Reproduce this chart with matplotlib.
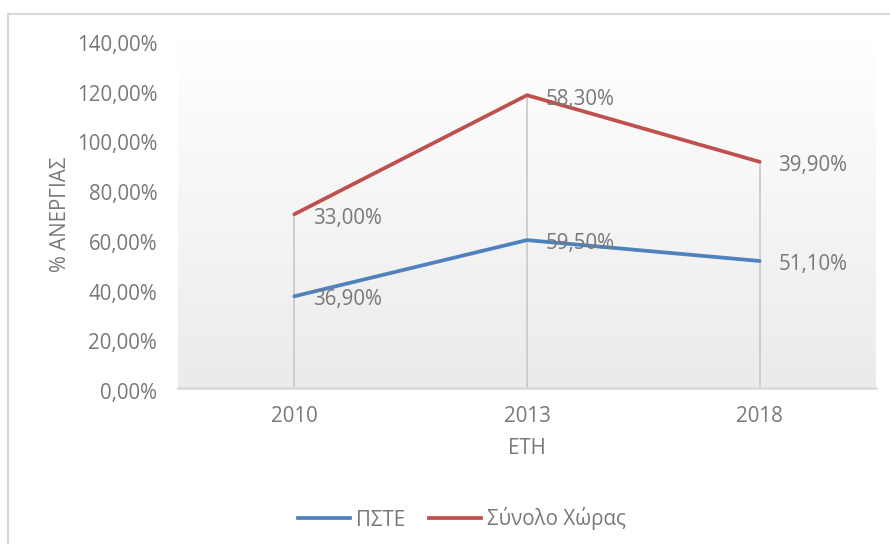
import matplotlib
matplotlib.use("Agg")
import matplotlib.pyplot as plt
import matplotlib.transforms as mtransforms
import numpy as np
from matplotlib.patches import Rectangle
from matplotlib.lines import Line2D
from matplotlib.colors import LinearSegmentedColormap

plt.rcParams['font.family'] = ['Open Sans', 'DejaVu Sans']

years = ["2010", "2013", "2018"]
pste = [0.369, 0.595, 0.511]
synolo = [0.330, 0.583, 0.399]
series_names = ["ΠΣΤΕ", "Σύνολο Χώρας"]
colors = ["#4F81BD", "#C0504D"]
yticks = [0.0, 0.2, 0.4, 0.6, 0.8, 1.0, 1.2, 1.4]
text_color = "#787878"
fs = 14.8

def pct(v):
    return f"{v*100:.2f}%".replace(".", ",")

W, H = 890, 544
fig = plt.figure(figsize=(W/100, H/100), dpi=100)

# chart-area border
fig.patches.append(Rectangle((8/W, -0.1), 1.2, (H-14)/H + 0.1, transform=fig.transFigure,
                             fill=False, edgecolor="#d9d9d9", linewidth=1.5))

left, right, bottom, top = 178/W, 876/W, (H-388)/H, (H-40)/H
ax = fig.add_axes([left, bottom, right-left, top-bottom])
ax.set_facecolor("none")

x = np.arange(len(years))
cum1 = np.array(pste)
cum2 = cum1 + np.array(synolo)

# gradient background (white at top, light grey at bottom)
grad = np.linspace(1, 0, 256).reshape(-1, 1)
cmap = LinearSegmentedColormap.from_list("g", ["#ffffff", "#ebebeb"])
ax.imshow(grad, extent=[-0.5, len(years)-0.5, 0, 1.4], origin="lower",
          aspect="auto", cmap=cmap, zorder=0)
ax.set_xlim(-0.5, len(years)-0.5)
ax.set_ylim(0, 1.4)

# drop lines
ax.vlines(x, 0, cum2, colors="#c8c8c8", linewidth=1.2, zorder=1)

ax.plot(x, cum1, color=colors[0], linewidth=2.7, solid_capstyle="round", zorder=3)
ax.plot(x, cum2, color=colors[1], linewidth=2.7, solid_capstyle="round", zorder=3)

for xi, yi, v in zip(x, cum1, pste):
    ax.annotate(pct(v), (xi, yi), xytext=(13.5, -2.5), textcoords="offset points",
                ha="left", va="center", fontsize=fs, color=text_color, zorder=5)
for xi, yi, v in zip(x, cum2, synolo):
    ax.annotate(pct(v), (xi, yi), xytext=(13.5, -3), textcoords="offset points",
                ha="left", va="center", fontsize=fs, color=text_color, zorder=5)

for s in ["top", "left", "right"]:
    ax.spines[s].set_visible(False)
ax.spines["bottom"].set_color("#d9d9d9")
ax.spines["bottom"].set_linewidth(1.8)
ax.spines["bottom"].set_zorder(4)

ax.set_xticks(x)
ax.set_xticklabels(years)
ax.set_yticks(yticks)
ax.set_yticklabels([pct(v) for v in yticks])
ax.tick_params(axis="both", length=0, labelsize=fs, labelcolor=text_color)
ax.tick_params(axis="y", pad=15)
ax.tick_params(axis="x", pad=13)
offset = mtransforms.ScaledTranslation(0, -4/72, fig.dpi_scale_trans)
for lbl in ax.get_yticklabels():
    lbl.set_verticalalignment("center")
    lbl.set_transform(lbl.get_transform() + offset)

ax.set_xlabel("ΕΤΗ", fontsize=fs, color=text_color, labelpad=8)
ax.set_ylabel("% ΑΝΕΡΓΙΑΣ", fontsize=fs, color=text_color, labelpad=4)

handles = [Line2D([], [], color=c, linewidth=2.7) for c in colors]
fig.legend(handles, series_names, loc="center", bbox_to_anchor=(462/W, (H-519)/H),
           ncol=2, frameon=False, fontsize=fs, labelcolor=text_color,
           handlelength=2.5, handletextpad=0.3, columnspacing=1.2)

fig.savefig("out.png", dpi=100)
